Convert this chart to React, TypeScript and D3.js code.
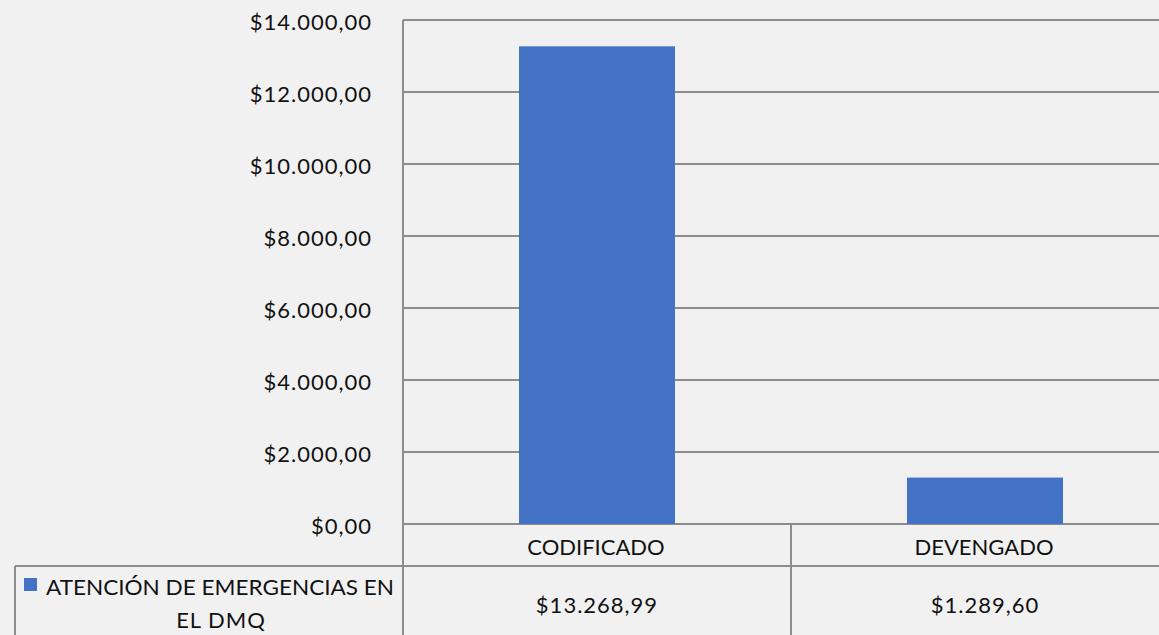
import React, { useEffect, useRef } from "react";
import * as d3 from "d3";

// chart data
const categories = ["CODIFICADO", "DEVENGADO"];
const seriesName = ["ATENCIÓN DE EMERGENCIAS EN", "EL DMQ"];
const values = [13268.99, 1289.6];
const valueLabels = ["$13.268,99", "$1.289,60"];
const yTicks = [0, 2000, 4000, 6000, 8000, 10000, 12000, 14000];

const W = 1159;
const H = 635;

const fmt = (v: number) =>
  "$" + d3.format(",.2f")(v).replace(/,/g, "#").replace(".", ",").replace(/#/g, ".");

const App = () => {
  const svgRef = useRef<SVGSVGElement>(null);

  useEffect(() => {
    const svg = d3.select(svgRef.current);
    svg.selectAll("*").remove();

    const left = 403;
    const right = 1179; // plot runs off the right edge
    const top = 20;
    const bottom = 524;
    const rowH = 42;
    const grid = "#8c8c8c";
    const font = "Lato, 'Open Sans', sans-serif";
    const fs = 22;

    svg.append("rect").attr("width", W).attr("height", H).attr("fill", "#f1f1f1");

    const x = d3.scaleBand().domain(categories).range([left, right]).paddingInner(0).paddingOuter(0);
    const y = d3.scaleLinear().domain([0, 14000]).range([bottom, top]);

    // gridlines
    svg.append("g")
      .selectAll("line")
      .data(yTicks)
      .enter()
      .append("line")
      .attr("x1", left).attr("x2", W)
      .attr("y1", d => y(d)).attr("y2", d => y(d))
      .attr("stroke", grid).attr("stroke-width", 2);

    // y labels
    svg.append("g")
      .selectAll("text")
      .data(yTicks)
      .enter()
      .append("text")
      .attr("x", 372)
      .attr("y", d => y(d) + 2)
      .attr("dy", "0.35em")
      .attr("text-anchor", "end")
      .attr("font-family", font)
      .attr("font-size", fs)
      .attr("letter-spacing", 1)
      .attr("fill", "#111")
      .text(d => fmt(d));

    // bars
    const barW = x.bandwidth() * 0.402;
    svg.append("g")
      .selectAll("rect")
      .data(values)
      .enter()
      .append("rect")
      .attr("x", (d, i) => x(categories[i])! + (x.bandwidth() - barW) / 2)
      .attr("y", d => y(d))
      .attr("width", barW)
      .attr("height", d => bottom - y(d))
      .attr("fill", "#4472c4");

    // data table lines
    const t = svg.append("g").attr("stroke", grid).attr("stroke-width", 2).attr("fill", "none");
    t.append("line").attr("x1", left).attr("x2", left).attr("y1", top).attr("y2", H);
    t.append("line").attr("x1", 15).attr("x2", W).attr("y1", bottom + rowH).attr("y2", bottom + rowH);
    t.append("line").attr("x1", 15).attr("x2", 15).attr("y1", bottom + rowH).attr("y2", H);
    categories.forEach(c => {
      const xe = x(c)! + x.bandwidth();
      t.append("line").attr("x1", xe).attr("x2", xe).attr("y1", bottom).attr("y2", H);
    });

    // category headers
    svg.append("g")
      .selectAll("text")
      .data(categories)
      .enter()
      .append("text")
      .attr("x", d => x(d)! + x.bandwidth() / 2 - 1)
      .attr("y", bottom + rowH / 2 + 2)
      .attr("dy", "0.35em")
      .attr("text-anchor", "middle")
      .attr("font-family", font)
      .attr("font-size", fs)
      .attr("fill", "#111")
      .text(d => d);

    // value cells
    svg.append("g")
      .selectAll("text")
      .data(valueLabels)
      .enter()
      .append("text")
      .attr("x", (d, i) => x(categories[i])! + x.bandwidth() / 2)
      .attr("y", 605)
      .attr("dy", "0.35em")
      .attr("text-anchor", "middle")
      .attr("font-family", font)
      .attr("font-size", fs)
      .attr("letter-spacing", 1)
      .attr("fill", "#111")
      .text(d => d);

    // legend key in the table
    svg.append("rect").attr("x", 24).attr("y", 578).attr("width", 13).attr("height", 13).attr("fill", "#4472c4");
    svg.append("text")
      .attr("x", 46).attr("y", 587).attr("dy", "0.35em")
      .attr("font-family", font).attr("font-size", fs).attr("fill", "#111")
      .attr("textLength", 348).attr("lengthAdjust", "spacingAndGlyphs")
      .text(seriesName[0]);
    svg.append("text")
      .attr("x", 221).attr("y", 620).attr("dy", "0.35em")
      .attr("text-anchor", "middle")
      .attr("font-family", font).attr("font-size", fs).attr("fill", "#111")
      .attr("letter-spacing", 1)
      .text(seriesName[1]);
  }, []);

  return (
    <svg
      ref={svgRef}
      width={W}
      height={H}
      style={{ position: "absolute", top: 0, left: 0, display: "block" }}
    />
  );
};

export default App;
